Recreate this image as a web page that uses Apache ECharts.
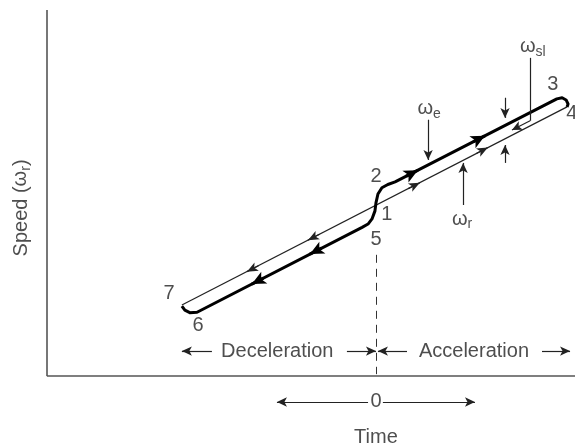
<!DOCTYPE html>
<html><head><meta charset="utf-8">
<script src="https://cdn.jsdelivr.net/npm/echarts@6/dist/echarts.min.js"></script>
<style>html,body{margin:0;padding:0;background:#fff}#c{width:575px;height:447px}</style>
</head><body><div id="c"></div>
<script>
// ---- data (time, speed in diagram units) ----
// ωr : rotor speed (thin line), straight from point 7 to point 4
const rotorTime  = [-5.91, 5.76];
const rotorSpeed = [1.94, 7.35];
// ωe : excitation speed (thick line) 6 -> 5 -> 1 -> 2 -> 3
const statorTime  = [-5.91,-5.82,-5.67,-5.45,-0.45,-0.27,-0.15,-0.06,-0.03,0.03,0.15,0.33,0.55,5.45,5.61,5.73,5.79,5.76];
const statorSpeed = [1.91,1.80,1.73,1.74,4.06,4.15,4.29,4.51,4.73,4.97,5.14,5.23,5.30,7.57,7.60,7.54,7.43,7.35];
// direction arrowheads (tip positions)
const rotorArrowTime   = [-2.09,-3.94, 1.30, 3.36];
const rotorArrowSpeed  = [ 3.71, 2.85, 5.28, 6.24];
const rotorArrowDir    = [-1,-1, 1, 1];
const statorArrowTime  = [-2.03,-3.79, 1.24, 3.27];
const statorArrowSpeed = [ 3.33, 2.51, 5.62, 6.56];
const statorArrowDir   = [-1,-1, 1, 1];
const slope = 0.4636;
// point numbers
const pointLabels = ['7','6','5','1','2','3','4'];
const pointTime   = [-6.30,-5.42,-0.03,0.30,-0.03,5.33,5.90];
const pointSpeed  = [2.24,1.39,3.72,4.40,5.46,7.95,7.16];
// text annotations
const noteText  = ['Deceleration','Acceleration','0','Time','{w|ω}{s|e}','{w|ω}{s|r}','{w|ω}{s|sl}'];
const noteTime  = [-3.02, 2.94, -0.03, -0.03, 1.58, 2.58, 4.72];
const noteSpeed = [0.68, 0.68, -0.71, -1.67, 7.27, 4.26, 8.96];
const yTitle = 'Speed ({w|ω}{s|r})';
const yTitleTime = -10.76, yTitleSpeed = 4.59;
// annotation arrows [fromT, fromS, toT, toS]
const noteArrows = [
  [1.55, 7.00, 1.55, 5.90],   // ωe pointer
  [2.61, 4.67, 2.61, 5.82],   // ωr pointer
  [3.88, 7.60, 3.88, 7.05],   // slip gap (down)
  [3.88, 5.82, 3.88, 6.31],   // slip gap (up)
  [4.64, 6.97, 4.09, 6.72],   // ωsl pointer
  [-5.00, 0.68, -5.91, 0.68], // deceleration left
  [-0.91, 0.68, -0.03, 0.68], // deceleration right
  [0.91, 0.68, 0.03, 0.68],   // acceleration left
  [5.00, 0.68, 5.85, 0.68],   // acceleration right
  [-0.27, -0.71, -3.03, -0.71], // time left
  [0.18, -0.71, 2.97, -0.71]    // time right
];
const noteLines = [
  [4.64, 8.69, 4.64, 6.97]    // ωsl leader
];
const axisLines = [[-10, 0, -10, 10], [-10, 0, 6, 0]];
const dashLine = [-0.03, 3.31, -0.03, 0.05];

// ---- build ----
const pairs = (t, s) => t.map((v, i) => [v, s[i]]);
const arrowSegs = (t, s, d) => t.map((v, i) => [
  {coord: [v - d[i] * 0.35, s[i] - d[i] * 0.35 * slope]}, {coord: [v, s[i]]}]);
const seg = (a, extra, endExtra) => [Object.assign({coord: [a[0], a[1]]}, extra || {}),
                                     Object.assign({coord: [a[2], a[3]]}, endExtra || {})];
const font = "'Liberation Sans', Arial, Helvetica, sans-serif";
const rich = {
  w: {fontSize: 20, fontFamily: font, color: '#222', lineHeight: 22, verticalAlign: 'top'},
  s: {fontSize: 14, fontFamily: font, color: '#222', lineHeight: 22, verticalAlign: 'bottom'}
};

const textData = pointLabels.map((l, i) => ({value: [pointTime[i], pointSpeed[i]], label: {formatter: l}}))
  .concat(noteText.map((l, i) => ({value: [noteTime[i], noteSpeed[i]], label: {formatter: l}})))
  .concat([{value: [yTitleTime, yTitleSpeed], label: {formatter: yTitle, rotate: 90}}]);

const none = {symbol: 'none'};
const chart = echarts.init(document.getElementById('c'), null, {renderer: 'canvas'});
chart.setOption({
  animation: false,
  backgroundColor: '#fff',
  grid: {left: 0, right: 0, top: 0, bottom: 0},
  xAxis: {type: 'value', min: -11.42, max: 6.0, show: false},
  yAxis: {type: 'value', min: -1.94, max: 10.27, show: false},
  series: [
    {
      name: 'ωr', type: 'line', symbol: 'none', silent: true, clip: false,
      data: pairs(rotorTime, rotorSpeed),
      lineStyle: {color: '#222', width: 1.2},
      markLine: {
        silent: true, symbol: ['none', 'arrow'], symbolSize: [7, 11],
        label: {show: false}, emphasis: {disabled: true},
        lineStyle: {color: '#222', width: 1.2, type: 'solid'},
        data: arrowSegs(rotorArrowTime, rotorArrowSpeed, rotorArrowDir)
      }
    },
    {
      name: 'ωe', type: 'line', symbol: 'none', silent: true, clip: false,
      data: pairs(statorTime, statorSpeed),
      lineStyle: {color: '#000', width: 3, join: 'round'},
      markLine: {
        silent: true, symbol: ['none', 'arrow'], symbolSize: [10, 14],
        label: {show: false}, emphasis: {disabled: true},
        lineStyle: {color: '#000', width: 3, type: 'solid'},
        data: arrowSegs(statorArrowTime, statorArrowSpeed, statorArrowDir)
      }
    },
    {
      name: 'text', type: 'scatter', symbolSize: 0, silent: true, clip: false,
      data: textData,
      label: {show: true, position: 'inside', color: '#222', fontSize: 20, fontFamily: font, rich: rich},
      markLine: {
        silent: true, symbol: ['none', 'arrow'], symbolSize: [7, 10],
        label: {show: false}, emphasis: {disabled: true},
        lineStyle: {color: '#222', width: 1.2, type: 'solid'},
        data: noteArrows.map(a => seg(a))
          .concat(noteLines.map(a => seg(a, none, none)))
          .concat(axisLines.map(a => seg(a, {symbol: 'none', lineStyle: {color: '#555', width: 1.6, type: 'solid'}}, none)))
          .concat([seg(dashLine, {symbol: 'none', lineStyle: {color: '#333', width: 1, type: [8, 6]}}, none)])
      }
    }
  ]
});
</script></body></html>
